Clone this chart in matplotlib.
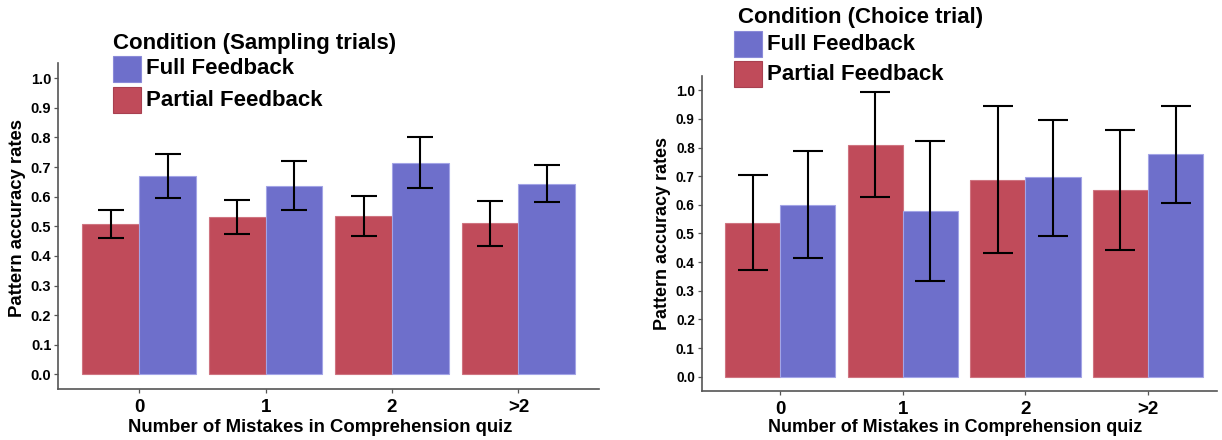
import matplotlib
matplotlib.use('Agg')
import matplotlib.pyplot as plt
from matplotlib.patches import Rectangle
import numpy as np

# data
mistakes = ['0', '1', '2', '>2']

sampling_partial = [0.507, 0.531, 0.534, 0.511]
sampling_partial_lo = [0.462, 0.475, 0.466, 0.435]
sampling_partial_hi = [0.556, 0.588, 0.602, 0.586]
sampling_full = [0.670, 0.637, 0.715, 0.644]
sampling_full_lo = [0.594, 0.556, 0.630, 0.582]
sampling_full_hi = [0.744, 0.722, 0.800, 0.707]

choice_partial = [0.536, 0.808, 0.688, 0.652]
choice_partial_lo = [0.373, 0.626, 0.431, 0.442]
choice_partial_hi = [0.703, 0.993, 0.944, 0.861]
choice_full = [0.598, 0.579, 0.696, 0.777]
choice_full_lo = [0.413, 0.333, 0.491, 0.608]
choice_full_hi = [0.787, 0.822, 0.897, 0.944]

RED = '#C04B5A'
BLUE = '#6E6FCB'
W, H = 1222, 440

plt.rcParams['font.family'] = ['Liberation Sans', 'DejaVu Sans']
plt.rcParams['font.weight'] = 'bold'

fig = plt.figure(figsize=(W / 100, H / 100), dpi=100)


def px(x, y):
    return x / W, 1 - y / H


def draw_panel(rect, xlim, partial, p_lo, p_hi, full, f_lo, f_hi, capsize, ytick_fs, title_fs):
    ax = fig.add_axes(rect)
    x = np.arange(len(mistakes))
    bw = 0.45
    ax.bar(x - bw / 2, partial, bw, color=RED, edgecolor='#cf7480', linewidth=0.8, zorder=2)
    ax.bar(x + bw / 2, full, bw, color=BLUE, edgecolor='#a3a4e6', linewidth=0.8, zorder=2)
    for off, vals, lo, hi in [(-bw / 2, partial, p_lo, p_hi), (bw / 2, full, f_lo, f_hi)]:
        v = np.array(vals)
        err = [v - np.array(lo), np.array(hi) - v]
        ax.errorbar(x + off, v, yerr=err, fmt='none', ecolor='black',
                    elinewidth=1.5, capthick=1.5, capsize=capsize, zorder=3)
    ax.set_xlim(*xlim)
    ax.set_ylim(-0.05, 1.05)
    ticks = np.arange(0, 1.01, 0.1)
    ax.set_yticks(ticks)
    ax.set_yticklabels([f'{t:.1f}' for t in ticks], fontsize=ytick_fs, fontweight='bold')
    ax.set_xticks(x)
    ax.set_xticklabels(mistakes, fontsize=13.5, fontweight='bold')
    for s in ['top', 'right']:
        ax.spines[s].set_visible(False)
    for s in ['left', 'bottom']:
        ax.spines[s].set_color('#555555')
        ax.spines[s].set_linewidth(1.2)
    ax.tick_params(axis='both', colors='#555555', length=3, width=0.9, labelcolor='black', pad=2)
    ax.tick_params(axis='x', pad=4)
    ax.set_xlabel('Number of Mistakes in Comprehension quiz', fontsize=title_fs, fontweight='bold')
    ax.set_ylabel('Pattern accuracy rates', fontsize=title_fs, fontweight='bold')
    return ax


def draw_legend(title, tx, ty, kx, ky1, ky2, lx):
    fig.text(*px(tx, ty), title, fontsize=16, fontweight='bold', va='center', ha='left')
    for ky, col, lab in [(ky1, BLUE, 'Full Feedback'), (ky2, RED, 'Partial Feedback')]:
        x0, y0 = px(kx, ky + 26)
        fig.patches.append(Rectangle((x0, y0), 28 / W, 26 / H, transform=fig.transFigure,
                                     facecolor=col, edgecolor='#8a8ad8' if col == BLUE else '#a84050',
                                     linewidth=0.8))
        fig.text(*px(lx, ky + 13), lab, fontsize=16, fontweight='bold', va='center', ha='left')


ax1 = draw_panel([58.3 / W, 1 - 389.3 / H, 541 / W, 326 / H], (-0.64, 3.64),
                 sampling_partial, sampling_partial_lo, sampling_partial_hi,
                 sampling_full, sampling_full_lo, sampling_full_hi,
                 capsize=9.7, ytick_fs=10.5, title_fs=13.3)
ax1.yaxis.set_label_coords(-0.06, 0.525)
ax1.xaxis.set_label_coords(0.484, -0.116)
ax1.xaxis.label.set_va('center')

ax2 = draw_panel([701.7 / W, 1 - 391 / H, 515 / W, 315 / H], (-0.64, 3.56),
                 choice_partial, choice_partial_lo, choice_partial_hi,
                 choice_full, choice_full_lo, choice_full_hi,
                 capsize=10.8, ytick_fs=9.8, title_fs=12.9)
ax2.yaxis.set_label_coords(-0.06, 0.5)
ax2.xaxis.set_label_coords(0.492, -0.116)
ax2.xaxis.label.set_va('center')

draw_legend('Condition (Sampling trials)', 113, 43, 113, 56, 87, 146)
draw_legend('Condition (Choice trial)', 738, 17, 734, 31, 61, 767)

fig.savefig('out.png', dpi=100)
